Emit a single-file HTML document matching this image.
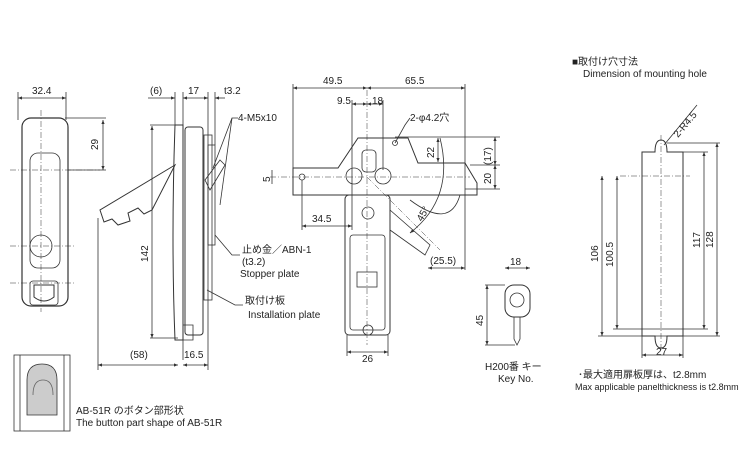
<!DOCTYPE html>
<html><head><meta charset="utf-8"><style>
body{margin:0;background:#fff}
svg text{font-family:"Liberation Sans","Noto Sans CJK JP",sans-serif;fill:#222}
</style></head><body>
<svg width="750" height="450" viewBox="0 0 750 450" xmlns="http://www.w3.org/2000/svg">
<defs><marker id="a" markerWidth="6" markerHeight="6" refX="5" refY="3" orient="auto-start-reverse"><path d="M0,1L5,3L0,5" fill="#333"/></marker></defs>
<g stroke="#333" fill="none" stroke-width="0.8">
<!-- front view -->
<rect x="22" y="118" width="46" height="188" rx="9" stroke-width="1.2"/>
<rect x="30" y="153" width="30" height="115" rx="8"/>
<circle cx="41" cy="246" r="11"/>
<rect x="30" y="281" width="28" height="24" rx="3"/>
<path d="M34 285h20v12q-10 8-20 0z" stroke-width="1"/>
<g stroke-dasharray="6,2,1,2" stroke-width="0.5"><line x1="41" y1="110" x2="41" y2="312"/><line x1="10" y1="170" x2="100" y2="170"/><line x1="10" y1="246" x2="75" y2="246"/><line x1="10" y1="283" x2="75" y2="283"/></g>
<line x1="18" y1="98" x2="66" y2="98" marker-start="url(#a)" marker-end="url(#a)"/>
<line x1="18" y1="92" x2="18" y2="120"/><line x1="66" y1="92" x2="66" y2="120"/>
<line x1="103" y1="120" x2="103" y2="170" marker-start="url(#a)" marker-end="url(#a)"/>
<line x1="65" y1="118" x2="106" y2="118"/><line x1="68" y1="170" x2="106" y2="170"/>
<!-- bottom view -->
<rect x="14" y="355" width="56" height="76"/>
<line x1="20" y1="355" x2="20" y2="431"/><line x1="64" y1="355" x2="64" y2="431"/>
<path d="M27 415V380q0-16 15-16q15 0 15 16v35z" fill="#ccc"/>
<path d="M33 395q0-15 10-15q10 0 10 15" stroke="#666"/>
<!-- side view -->
<path d="M175 125l8 0 0 215-8 0q-4-100 0-215z" stroke-width="1"/>
<rect x="185" y="127" width="18" height="208" rx="3" stroke-width="1"/>
<rect x="204" y="135" width="8" height="165"/>
<rect x="208" y="145" width="7" height="100"/>
<path d="M175 165L100 210l4 12 8-3 6 6 12-4-2-8 10-5 6 6 8-4z" stroke-width="1"/>
<path d="M205 180l15-20 5 5-15 25z"/>
<path d="M183 325h10v15h-10z"/>
<line x1="148" y1="98" x2="175" y2="98" marker-end="url(#a)"/>
<line x1="183" y1="98" x2="208" y2="98" marker-start="url(#a)" marker-end="url(#a)"/>
<line x1="215" y1="98" x2="225" y2="98" marker-start="url(#a)"/>
<line x1="175" y1="92" x2="175" y2="125"/><line x1="183" y1="92" x2="183" y2="360"/><line x1="208" y1="92" x2="208" y2="370"/><line x1="215" y1="92" x2="215" y2="145"/>
<line x1="152" y1="126" x2="152" y2="338" marker-start="url(#a)" marker-end="url(#a)"/>
<line x1="150" y1="125" x2="175" y2="125"/><line x1="150" y1="338" x2="178" y2="338"/>
<line x1="98" y1="218" x2="98" y2="370"/>
<line x1="98" y1="365" x2="178" y2="365" marker-start="url(#a)" marker-end="url(#a)"/>
<line x1="183" y1="365" x2="208" y2="365" marker-start="url(#a)" marker-end="url(#a)"/>
<polyline points="213,168 232,118 238,118"/><line x1="220" y1="205" x2="232" y2="118"/>
<polyline points="215,235 232,255 240,255"/><polyline points="207,290 235,305 243,305"/>
<!-- back view -->
<path d="M293 168h45l20-30h50l10 25h47l12 20v12H293z" stroke-width="1"/>
<circle cx="302" cy="177" r="3"/><circle cx="395" cy="143" r="2.5"/>
<circle cx="354" cy="176" r="8"/><circle cx="383" cy="176" r="8"/>
<rect x="362" y="150" width="14" height="22" rx="4"/>
<rect x="345" y="195" width="45" height="140" rx="4" stroke-width="1"/>
<rect x="350" y="235" width="35" height="95" rx="3"/>
<rect x="357" y="272" width="20" height="15"/>
<circle cx="368" cy="213" r="6"/><circle cx="368" cy="330" r="5"/>
<path d="M390 210l40 35-5 10-35-25"/>
<path d="M410 200q40 30 50-5"/>
<g stroke-dasharray="6,2,1,2" stroke-width="0.5"><line x1="367" y1="90" x2="367" y2="345"/><line x1="270" y1="177" x2="470" y2="177"/><line x1="367" y1="177" x2="440" y2="250"/></g>
<line x1="293" y1="88" x2="367" y2="88" marker-start="url(#a)" marker-end="url(#a)"/>
<line x1="367" y1="88" x2="465" y2="88" marker-start="url(#a)" marker-end="url(#a)"/>
<line x1="293" y1="84" x2="293" y2="175"/><line x1="465" y1="84" x2="465" y2="270"/>
<line x1="352" y1="104" x2="367" y2="104" marker-start="url(#a)" marker-end="url(#a)"/>
<line x1="367" y1="104" x2="383" y2="104" marker-start="url(#a)" marker-end="url(#a)"/>
<line x1="352" y1="100" x2="352" y2="230"/><line x1="383" y1="100" x2="383" y2="170"/>
<polyline points="395,143 405,125 410,118"/>
<line x1="438" y1="138" x2="438" y2="162" marker-start="url(#a)" marker-end="url(#a)"/>
<line x1="395" y1="137" x2="500" y2="137"/><line x1="470" y1="165" x2="500" y2="165"/><line x1="465" y1="189" x2="500" y2="189"/>
<line x1="495" y1="137" x2="495" y2="165" marker-start="url(#a)" marker-end="url(#a)"/>
<line x1="495" y1="165" x2="495" y2="189" marker-start="url(#a)" marker-end="url(#a)"/>
<line x1="272" y1="170" x2="272" y2="184"/>
<line x1="302" y1="180" x2="302" y2="230"/>
<line x1="302" y1="226" x2="352" y2="226" marker-start="url(#a)" marker-end="url(#a)"/>
<path d="M440 138q15 60-30 95" marker-end="url(#a)"/>
<line x1="428" y1="268" x2="465" y2="268" marker-start="url(#a)" marker-end="url(#a)"/>
<line x1="347" y1="352" x2="388" y2="352" marker-start="url(#a)" marker-end="url(#a)"/>
<line x1="347" y1="335" x2="347" y2="356"/><line x1="388" y1="335" x2="388" y2="356"/>
<!-- key -->
<rect x="505" y="285" width="25" height="32" rx="9" stroke-width="1"/>
<circle cx="517" cy="300" r="7"/>
<path d="M514 317v22l3 6 3-6v-22"/>
<line x1="505" y1="268" x2="530" y2="268" marker-start="url(#a)" marker-end="url(#a)"/>
<line x1="487" y1="285" x2="487" y2="345" marker-start="url(#a)" marker-end="url(#a)"/>
<line x1="485" y1="285" x2="505" y2="285"/><line x1="485" y1="345" x2="515" y2="345"/>
<!-- mounting hole -->
<path d="M642 152h13q0-12 6-12q6 0 6 12h16v184h-16q0 12-6 12q-6 0-6-12h-13z" stroke-width="1"/>
<line x1="661" y1="135" x2="661" y2="352" stroke-dasharray="6,2,1,2" stroke-width="0.5"/>
<line x1="620" y1="176" x2="690" y2="176" stroke-dasharray="6,2,1,2" stroke-width="0.5"/>
<line x1="602" y1="176" x2="602" y2="336" marker-start="url(#a)" marker-end="url(#a)"/>
<line x1="617" y1="176" x2="617" y2="329" marker-start="url(#a)" marker-end="url(#a)"/>
<line x1="704" y1="152" x2="704" y2="329" marker-start="url(#a)" marker-end="url(#a)"/>
<line x1="717" y1="143" x2="717" y2="336" marker-start="url(#a)" marker-end="url(#a)"/>
<line x1="598" y1="336" x2="720" y2="336"/><line x1="613" y1="329" x2="708" y2="329"/>
<line x1="683" y1="152" x2="708" y2="152"/><line x1="667" y1="143" x2="720" y2="143"/>
<line x1="642" y1="355" x2="683" y2="355" marker-start="url(#a)" marker-end="url(#a)"/>
<line x1="642" y1="336" x2="642" y2="358"/><line x1="683" y1="336" x2="683" y2="358"/>
<line x1="664" y1="145" x2="697" y2="105"/>
</g>
<g font-size="10">
<text x="32" y="94">32.4</text>
<text x="150" y="94">(6)</text><text x="188" y="94">17</text><text x="224" y="94">t3.2</text>
<text x="238" y="121">4-M5x10</text>
<text x="242" y="253">止め金／ABN-1</text><text x="242" y="265">(t3.2)</text><text x="240" y="277">Stopper plate</text>
<text x="245" y="304">取付け板</text><text x="248" y="318">Installation plate</text>
<text x="130" y="358">(58)</text><text x="184" y="358">16.5</text>
<text x="323" y="84">49.5</text><text x="405" y="84">65.5</text>
<text x="337" y="104">9.5</text><text x="372" y="104">18</text>
<text x="410" y="121">2-φ4.2穴</text>
<text x="312" y="222">34.5</text><text x="430" y="264">(25.5)</text><text x="362" y="362">26</text>
<text x="510" y="265">18</text>
<text x="485" y="370">H200番 キー</text><text x="498" y="382">Key No.</text>
<text x="572" y="65">■取付け穴寸法</text><text x="583" y="77">Dimension of mounting hole</text>
<text x="656" y="355">27</text>
<text x="578" y="378">･最大適用扉板厚は、t2.8mm</text>
<text x="575" y="390" font-size="9">Max applicable panelthickness is t2.8mm</text>
<text x="76" y="414">AB-51R のボタン部形状</text>
<text x="76" y="426">The button part shape of AB-51R</text>
</g>
<g font-size="10">
<text transform="translate(98,150) rotate(-90)">29</text>
<text transform="translate(148,262) rotate(-90)">142</text>
<text transform="translate(270,182) rotate(-90)">5</text>
<text transform="translate(434,158) rotate(-90)">22</text>
<text transform="translate(491,165) rotate(-90)">(17)</text>
<text transform="translate(491,184) rotate(-90)">20</text>
<text transform="translate(422,222) rotate(-60)">45°</text>
<text transform="translate(483,326) rotate(-90)">45</text>
<text transform="translate(598,262) rotate(-90)">106</text>
<text transform="translate(613,267) rotate(-90)">100.5</text>
<text transform="translate(700,248) rotate(-90)">117</text>
<text transform="translate(713,248) rotate(-90)">128</text>
<text transform="translate(678,138) rotate(-50)">2-R4.5</text>
</g>
</svg>
</body></html>
